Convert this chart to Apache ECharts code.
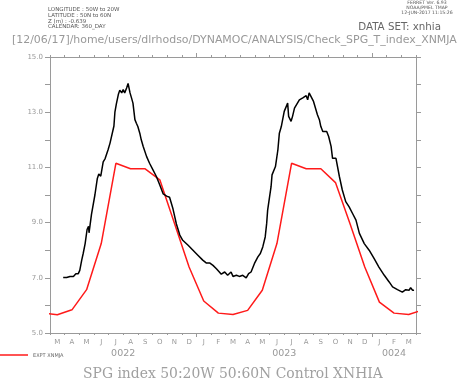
<!DOCTYPE html>
<html><head><meta charset="utf-8">
<script src="https://cdn.jsdelivr.net/npm/echarts@6/dist/echarts.min.js"></script>
<style>html,body{margin:0;padding:0;background:#fff}#c{width:457px;height:380px}</style>
</head><body><div id="c"></div>
<script>
// ---- data (x in days of a 360-day calendar, day 0 = 1 Mar 0022) ----
const monthLetters = ['M','A','M','J','J','A','S','O','N','D','J','F','M','A','M','J','J','A','S','O','N','D','J','F','M'];
const yearLabels = ['0022','0023','0024'];
const yearLabelDays = [150, 480, 705];
const yearBoundaryDays = [300, 660];
const yTickLabels = [5, 7, 9, 11, 13, 15];

// Control XNHIA (black)
const blackDay = [27,34,41,48,53,58,61,65,68,72,76,79,80,85,92,97,100,104,109,113,116,119,123,127,131,133,136,140,143,147,150,153,157,160,164,167,170,174,177,180,184,187,191,198,204,211,218,225,232,239,245,252,259,266,272,283,293,303,313,320,327,334,341,347,351,358,364,371,375,382,388,395,402,407,412,419,426,431,436,441,444,446,450,453,455,458,462,467,470,474,477,480,484,487,489,494,497,501,505,511,518,521,525,528,531,535,540,544,548,552,555,559,562,567,571,576,579,586,593,599,606,613,620,627,634,644,654,664,674,685,695,702,712,722,729,736,739,743,746];
const blackVal = [7.01,7.01,7.05,7.05,7.15,7.15,7.27,7.64,7.88,8.24,8.75,8.87,8.63,9.30,10.00,10.60,10.76,10.68,11.20,11.32,11.25,11.64,11.88,11.90,12.50,13.00,13.30,13.64,13.80,13.70,13.82,13.70,13.88,14.04,13.70,13.52,13.33,12.73,12.60,12.48,12.24,12.00,11.76,11.39,11.15,10.91,10.67,10.36,10.04,9.96,9.92,9.50,8.95,8.55,8.36,8.18,8.00,7.82,7.64,7.54,7.54,7.45,7.33,7.21,7.13,7.21,7.09,7.21,7.05,7.09,7.05,7.09,7.00,7.15,7.21,7.52,7.76,7.88,8.12,8.48,8.97,9.45,9.94,10.30,10.73,10.67,11.03,11.64,12.24,12.48,12.55,13.03,12.97,13.33,12.85,12.67,12.85,13.15,13.19,13.45,13.52,13.58,13.60,13.45,13.70,13.72,13.39,13.45,12.91,12.73,12.48,12.30,12.24,12.30,12.12,11.76,11.33,11.33,10.67,10.18,9.76,9.57,9.33,9.09,8.61,8.24,8.00,7.70,7.39,7.09,6.85,6.67,6.57,6.48,6.57,6.55,6.64,6.55,6.55];

// EXPT XNMJA (red), monthly means at mid-month
const redDay = [-15,15,45,75,105,135,165,195,225,255,285,315,345,375,405,435,465,495,525,555,585,615,645,675,705,735,765];
const redVal = [5.73,5.66,5.84,6.57,8.24,11.15,10.95,10.95,10.55,8.98,7.39,6.16,5.72,5.67,5.82,6.55,8.24,11.15,10.95,10.95,10.45,8.95,7.39,6.12,5.72,5.67,5.84];

const monthTickDays = monthLetters.map((_, i) => i * 30).concat([750]);
const monthMidDays = monthLetters.map((_, i) => i * 30 + 15);

// ---- chart ----
const chart = echarts.init(document.getElementById('c'), null, {renderer: 'canvas'});
const axisGray = '#9a9a9a';
const textGray = '#999999';

function fitFont(text, family, targetW, base) {
  const cv = document.createElement('canvas').getContext('2d');
  cv.font = base + 'px ' + family;
  const w = cv.measureText(text).width;
  return base * targetW / w;
}
const pathText = '[12/06/17]/home/users/dlrhodso/DYNAMOC/ANALYSIS/Check_SPG_T_index_XNMJA';
const pathSize = fitFont(pathText, 'DejaVu Sans', 445, 20);
const bottomText = 'SPG index 50:20W 50:60N Control XNHIA';
const bottomSize = fitFont(bottomText, '"DejaVu Serif"', 300, 20);
const dsText = 'DATA SET: xnhia';
const dsSize = fitFont(dsText, 'DejaVu Sans', 83, 20);

const blackData = blackDay.map((d, i) => [d, blackVal[i]]);
const redData = redDay.map((d, i) => [d, redVal[i]]);

function xAx(pos, tickVals, tickLen, labelVals, fmt, margin, fs, showLine) {
  return {
    type: 'value', min: 0, max: 750, position: pos,
    axisLine: {show: showLine, onZero: false, lineStyle: {color: axisGray, width: 1}},
    axisTick: {show: true, customValues: tickVals, length: tickLen, inside: false, lineStyle: {color: axisGray, width: 1}},
    axisLabel: labelVals ? {show: true, customValues: labelVals, formatter: fmt, margin: margin, color: textGray, fontSize: fs, fontFamily: 'DejaVu Sans'} : {show: false},
    splitLine: {show: false}
  };
}

const option = {
  animation: false,
  backgroundColor: '#ffffff',
  grid: {left: 50, right: 41, top: 57, bottom: 47, containLabel: false},
  xAxis: [
    xAx('bottom', monthTickDays, 2, monthMidDays, v => monthLetters[Math.round((v - 15) / 30)], 6, 7, true),
    xAx('bottom', yearBoundaryDays, 4, yearLabelDays, v => yearLabels[yearLabelDays.indexOf(v)], 16, 9.5, false),
    xAx('top', monthTickDays, 2, null, null, 0, 0, true),
    xAx('top', yearBoundaryDays, 4, null, null, 0, 0, false)
  ],
  yAxis: [
    {type: 'value', min: 5, max: 15, interval: 1, position: 'left',
     axisLine: {show: true, onZero: false, lineStyle: {color: axisGray}},
     axisTick: {show: true, length: 5, lineStyle: {color: axisGray}},
     axisLabel: {show: true, customValues: yTickLabels, formatter: v => v.toFixed(1), color: textGray, fontSize: 7, margin: 7, fontFamily: 'DejaVu Sans'},
     splitLine: {show: false}},
    {type: 'value', min: 5, max: 15, interval: 1, position: 'right',
     axisLine: {show: true, onZero: false, lineStyle: {color: axisGray}},
     axisTick: {show: true, length: 5, lineStyle: {color: axisGray}},
     axisLabel: {show: false}, splitLine: {show: false}}
  ],
  series: [
    {name: 'EXPT XNMJA', type: 'line', data: redData, xAxisIndex: 0, yAxisIndex: 0,
     showSymbol: false, clip: true, lineStyle: {color: '#ff1a1a', width: 1.5}, z: 2},
    {name: 'Control XNHIA', type: 'line', data: blackData, xAxisIndex: 0, yAxisIndex: 0,
     showSymbol: false, clip: true, lineStyle: {color: '#000000', width: 1.5}, z: 3}
  ],
  graphic: [
    {type: 'text', left: 48, top: 7, style: {text: 'LONGITUDE : 50W to 20W\nLATITUDE : 50N to 60N\nZ (m) : -0.639\nCALENDAR: 360_DAY', fontSize: 5.5, lineHeight: 5.6, fill: '#555', fontFamily: 'DejaVu Sans'}},
    {type: 'text', x: 427, y: 0, style: {text: 'FERRET Ver. 6.93\nNOAA/PMEL TMAP\n12-JUN-2017 11:15:26', fontSize: 4.6, lineHeight: 5, fill: '#555', align: 'center', fontFamily: 'DejaVu Sans'}},
    {type: 'text', x: 441, y: 27, style: {text: dsText, fontSize: dsSize, fill: '#666', align: 'right', verticalAlign: 'middle', fontFamily: 'DejaVu Sans'}},
    {type: 'text', x: 12, y: 35, style: {text: pathText, fontSize: pathSize, fill: '#999', fontFamily: 'DejaVu Sans'}},
    {type: 'line', shape: {x1: 0, y1: 355, x2: 28, y2: 355}, style: {stroke: '#ff1a1a', lineWidth: 1.5}},
    {type: 'text', x: 33, y: 353, style: {text: 'EXPT XNMJA', fontSize: 5, fill: '#666', fontFamily: 'DejaVu Sans'}},
    {type: 'text', x: 83, y: 374, style: {text: bottomText, fontSize: bottomSize, fill: '#a0a0a0', verticalAlign: 'middle', fontFamily: '"DejaVu Serif"'}}
  ]
};
chart.setOption(option);
</script>
</body></html>
